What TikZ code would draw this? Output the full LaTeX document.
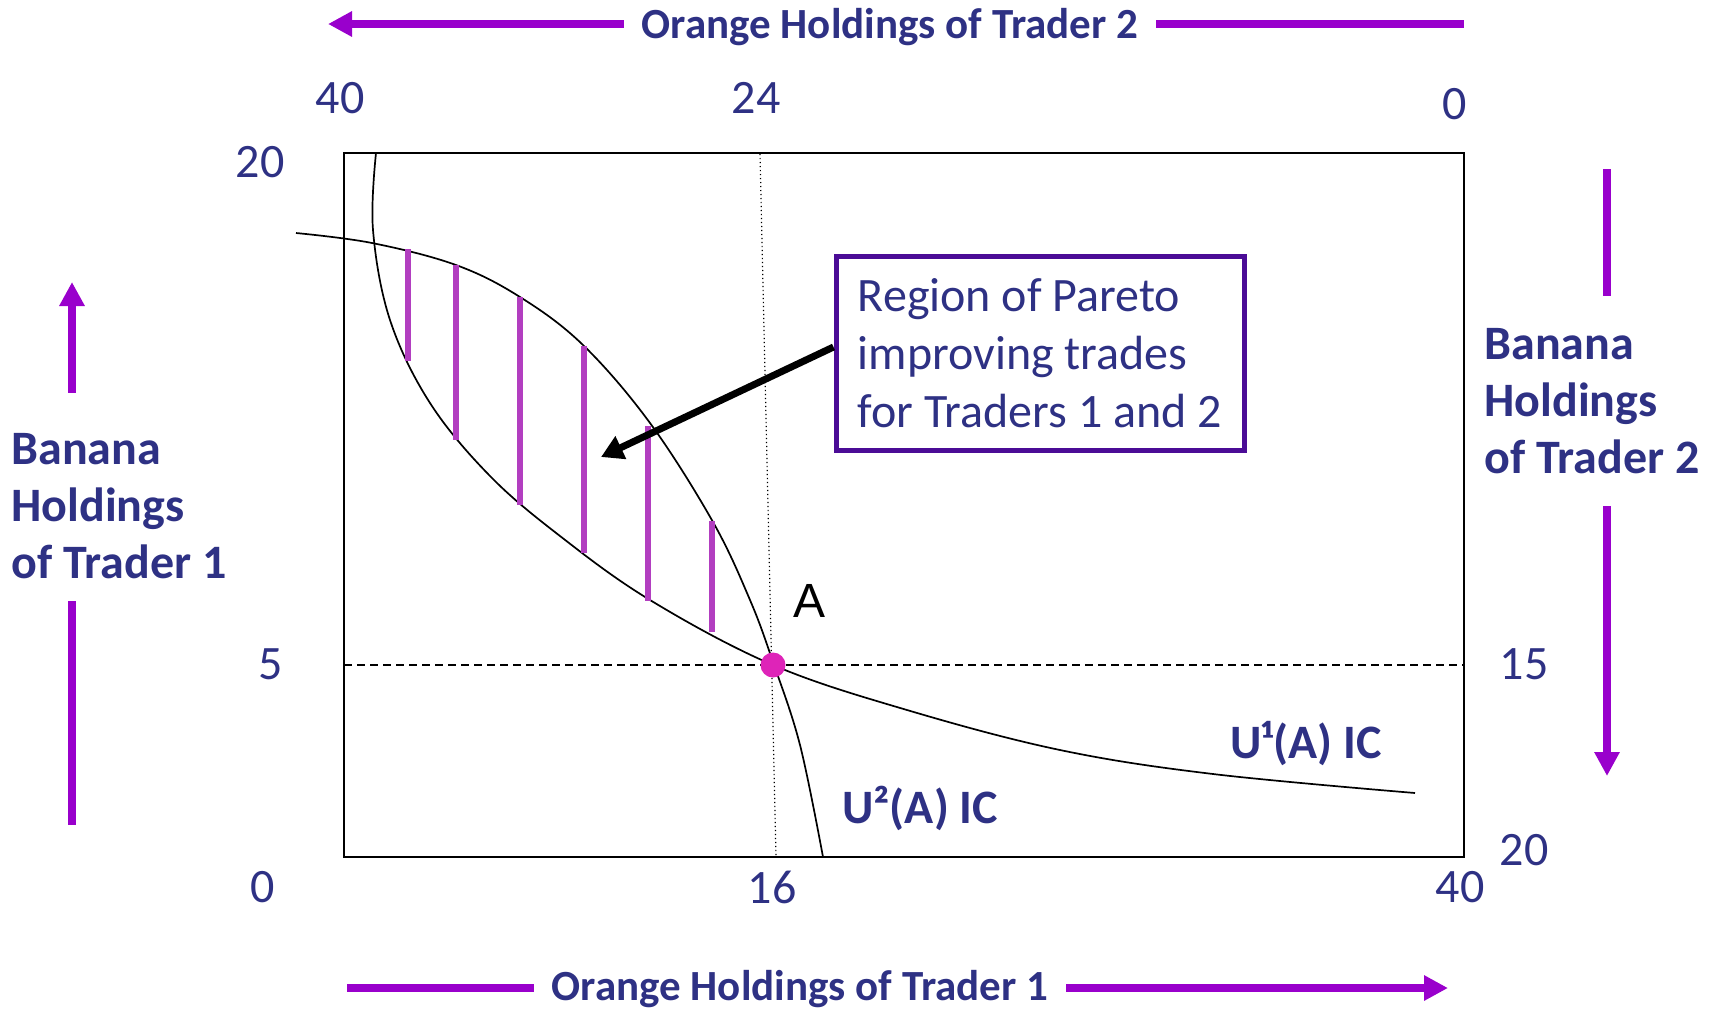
\documentclass[tikz,border=0pt]{standalone}
\usepackage{fontspec}
\setmainfont{Carlito}
\newfontfamily\arialfont{Liberation Sans}
\usetikzlibrary{arrows.meta}
\definecolor{navytext}{RGB}{46,49,132}
\definecolor{axpurple}{RGB}{153,0,204}
\definecolor{hatchpurple}{RGB}{178,62,192}
\definecolor{boxpurple}{RGB}{75,12,150}
\definecolor{ptmagenta}{RGB}{222,36,184}

\begin{document}
\begin{tikzpicture}[x=0.5pt, y=-0.5pt,
  axline/.style={color=axpurple, line width=4pt},
  axarrow/.style={axline, -{Triangle[length=12pt,width=12pt]}},
  axtitle/.style={text=navytext, font=\fontsize{21.5}{26}\bfseries\selectfont, inner sep=0pt, outer xsep=9pt, anchor=base},
  sidetitle/.style={text=navytext, font=\fontsize{24}{28.5}\bfseries\selectfont, inner sep=0pt, align=left, anchor=west},
  numlab/.style={text=navytext, font=\fontsize{24}{28}\selectfont, inner sep=0pt},
  curvelab/.style={text=navytext, font=\fontsize{24}{28}\bfseries\selectfont, inner sep=0pt, anchor=base west},
  ic/.style={line width=0.85pt},
  hatch/.style={color=hatchpurple, line width=2.7pt}]
	\useasboundingbox (0,0) rectangle (1713,1008);
	\draw[line width=1.1pt] (344,153) rectangle (1464,857);
	\draw[line width=0.9pt, dash pattern=on 4pt off 2.5pt] (344,665) -- (1464,665);
	\draw[line width=0.6pt, dash pattern=on 0.6pt off 1.4pt] (760,154) -- (776,857);
	\draw[ic] plot[smooth, tension=0.6] coordinates {(296,233) (372,243) (456,265) (520,297) (583,345) (650,423) (713,522) (750,600) (773,662) (800,745) (823,857)};
	\draw[ic] plot[smooth, tension=0.6] coordinates {(376,153) (373,230) (390,320) (430,403) (490,476) (560,536) (650,600) (773,665) (907,710) (1060,750) (1213,774) (1415,793)};
	\foreach \x/\t/\b in {408/249/361, 456/265/440, 520/297/505, 584/346/553, 648/426/601, 712/521/632}
		\draw[hatch] (\x,\t) -- (\x,\b);
	\node[circle, fill=ptmagenta, minimum size=12.5pt, inner sep=0pt] (ptA) at (773,665) {};
	\node[font=\arialfont\fontsize{24}{28}\selectfont, inner sep=0pt, anchor=base west] (labA) at (793,617) {A};
	\node[curvelab] (u1lab) at (1230,758) {U¹(A) IC};
	\node[curvelab] (u2lab) at (842,823) {U²(A) IC};
	\node[draw=boxpurple, line width=2.5pt, text=navytext, font=\fontsize{24}{29}\selectfont, align=left, minimum width=204pt, minimum height=97pt] (region) at (1040,353) {Region of Pareto\\improving trades\\for Traders 1 and 2};
	\coordinate (regtip) at (601,457);
	\draw[line width=3.5pt, -{Triangle[length=11pt,width=12pt]}] ([yshift=3pt]region.west) -- (regtip);
	\node[numlab] (n40top) at (340,98) {40};
	\node[numlab] (n24top) at (756,98) {24};
	\node[numlab] (n0top) at (1455,104) {0};
	\node[numlab] (n20left) at (260,162) {20};
	\node[numlab] (n5left) at (271,664) {5};
	\node[numlab] (n0left) at (263,887) {0};
	\node[numlab] (n16bot) at (772,887) {16};
	\node[numlab] (n40bot) at (1460,887) {40};
	\node[numlab] (n15right) at (1524,664) {15};
	\node[numlab] (n20right) at (1524,850) {20};
	\node[axtitle] (o2) at (890,38) {Orange Holdings of Trader 2};
	\coordinate (o2tip) at (328,24);
	\coordinate (o2end) at (1464,24);
	\draw[axarrow] (o2.west |- o2tip) -- (o2tip);
	\draw[axline] (o2.east |- o2end) -- (o2end);
	\node[axtitle] (o1) at (800,1000) {Orange Holdings of Trader 1};
	\coordinate (o1tail) at (347,988);
	\coordinate (o1tip) at (1448,988);
	\draw[axline] (o1.west |- o1tail) -- (o1tail);
	\draw[axarrow] (o1.east |- o1tip) -- (o1tip);
	\node[sidetitle] (b1) at (11,506) {Banana\\Holdings\\of Trader 1};
	\coordinate (b1tip) at (72,282);
	\coordinate (b1tail) at (72,825);
	\draw[axarrow, shorten <=20pt] (b1tip |- b1.north) -- (b1tip);
	\draw[axline, shorten <=11pt] (b1tail |- b1.south) -- (b1tail);
	\node[sidetitle] (b2) at (1484,401) {Banana\\Holdings\\of Trader 2};
	\coordinate (b2tail) at (1607,169);
	\coordinate (b2tip) at (1607,776);
	\draw[axline, shorten <=16pt] (b2tail |- b2.north) -- (b2tail);
	\draw[axarrow, shorten <=16pt] (b2tip |- b2.south) -- (b2tip);
\end{tikzpicture}
\end{document}
